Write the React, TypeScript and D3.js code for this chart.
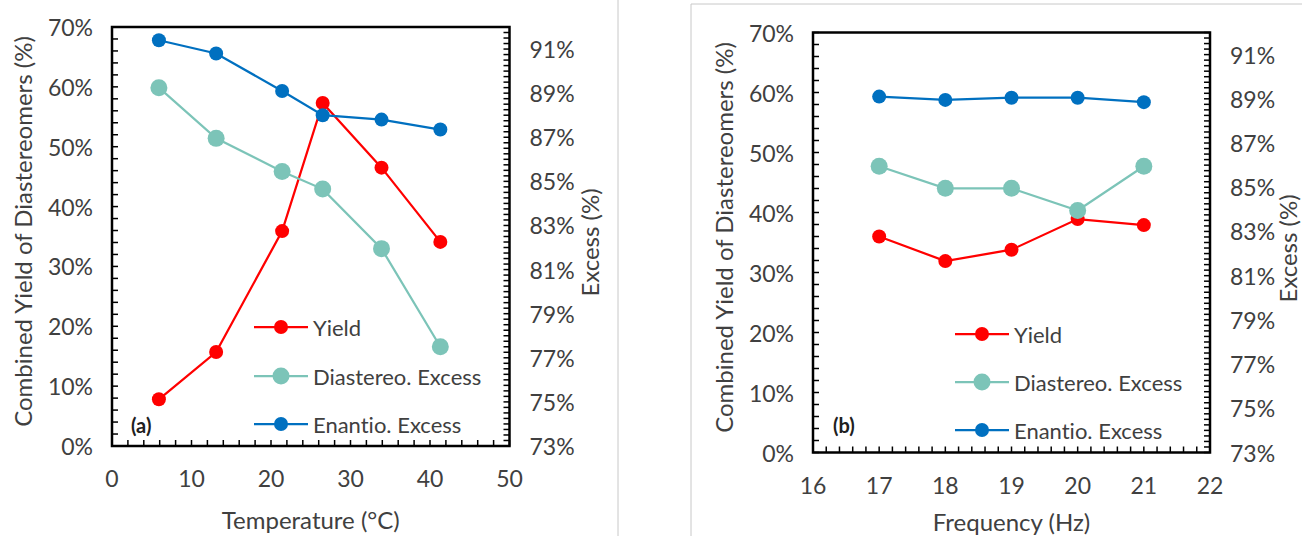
import React from 'react'
import * as d3 from 'd3'

// panel (a): temperature series
const tempC = [5.9, 13.1, 21.4, 26.5, 33.9, 41.3]
const tempYield = [7.8, 15.7, 35.9, 57.3, 46.5, 34.1]
const tempDiastereo = [89.25, 86.95, 85.45, 84.65, 81.95, 77.5]
const tempEnantio = [91.4, 90.8, 89.1, 88.0, 87.8, 87.35]

// panel (b): frequency series
const freqHz = [17, 18, 19, 20, 21]
const freqYield = [36.0, 31.9, 33.8, 38.9, 37.9]
const freqDiastereo = [85.95, 84.95, 84.95, 83.95, 85.95]
const freqEnantio = [89.1, 88.95, 89.05, 89.05, 88.85]

// axes
const yieldTicks = [0, 10, 20, 30, 40, 50, 60, 70]
const excessTicks = [73, 75, 77, 79, 81, 83, 85, 87, 89, 91]
const tempTicks = [0, 10, 20, 30, 40, 50]
const freqTicks = [16, 17, 18, 19, 20, 21, 22]

const seriesNames = ['Yield', 'Diastereo. Excess', 'Enantio. Excess']
const colors = ['#FF0000', '#7CC4B8', '#0070C0']
const radii = [7, 8.5, 7]

const FONT = 'Lato, "Open Sans", sans-serif'
const TXT = '#404040'

type Panel = {
  label: string
  xTitle: string
  xs: number[]
  yieldV: number[]
  dia: number[]
  ena: number[]
  xTicks: number[]
  xMinor: number
  box: { x0: number; x1: number; y0: number; y1: number }
  legend: { x: number; ys: number[] }
  tag: { x: number; y: number }
  titleY: number
  rightTitleDx: number
}

const panels: Panel[] = [
  {
    label: '(a)', xTitle: 'Temperature (°C)', xs: tempC, yieldV: tempYield, dia: tempDiastereo, ena: tempEnantio,
    xTicks: tempTicks, xMinor: 2,
    box: { x0: 112, x1: 509.5, y0: 27, y1: 446 },
    legend: { x: 254, ys: [327, 376, 424] },
    tag: { x: 131, y: 425 },
    titleY: 519,
    rightTitleDx: 80,
  },
  {
    label: '(b)', xTitle: 'Frequency (Hz)', xs: freqHz, yieldV: freqYield, dia: freqDiastereo, ena: freqEnantio,
    xTicks: freqTicks, xMinor: 0.2,
    box: { x0: 813, x1: 1210, y0: 32.5, y1: 452.5 },
    legend: { x: 955, ys: [334, 382, 430] },
    tag: { x: 833, y: 425 },
    titleY: 521,
    rightTitleDx: 77,
  },
]

function ChartPanel({ p }: { p: Panel }) {
  const { x0, x1, y0, y1 } = p.box
  const x = d3.scaleLinear().domain([p.xTicks[0], p.xTicks[p.xTicks.length - 1]]).range([x0, x1])
  const yL = d3.scaleLinear().domain([0, 70]).range([y1, y0])
  const yR = d3.scaleLinear().domain([73, 92]).range([y1, y0])
  const line = d3.line<[number, number]>().x(d => d[0]).y(d => d[1])

  const xMin = p.xTicks[0], xMax = p.xTicks[p.xTicks.length - 1]
  const xMinorTicks = d3.range(xMin, xMax + 1e-6, p.xMinor)
  const yLMinor = d3.range(0, 70 + 1e-6, 2)
  const yRMinor = d3.range(73, 92 + 1e-6, 0.25)

  const series = [
    p.xs.map((v, i) => [x(v), yL(p.yieldV[i])] as [number, number]),
    p.xs.map((v, i) => [x(v), yR(p.dia[i])] as [number, number]),
    p.xs.map((v, i) => [x(v), yR(p.ena[i])] as [number, number]),
  ]
  const midY = (y0 + y1) / 2
  const tk = 6

  return (
    <g>
      {/* ticks */}
      {xMinorTicks.map((t, i) => (
        <line key={'xt' + i} x1={x(t)} x2={x(t)} y1={y1} y2={y1 - tk} stroke="#000" strokeWidth={1.5} />
      ))}
      {yLMinor.map((t, i) => (
        <line key={'yl' + i} x1={x0} x2={x0 + tk} y1={yL(t)} y2={yL(t)} stroke="#000" strokeWidth={1.5} />
      ))}
      {yRMinor.map((t, i) => (
        <line key={'yr' + i} x1={x1} x2={x1 - tk} y1={yR(t)} y2={yR(t)} stroke="#000" strokeWidth={1.5} />
      ))}
      <rect x={x0} y={y0} width={x1 - x0} height={y1 - y0} fill="none" stroke="#000" strokeWidth={2.5} />

      {/* tick labels */}
      {yieldTicks.map(t => (
        <text key={'l' + t} x={x0 - 19} y={yL(t)} textAnchor="end" dominantBaseline="central"
          fontSize={23} fill={TXT}>{t}%</text>
      ))}
      {excessTicks.map(t => (
        <text key={'r' + t} x={x1 + 20} y={yR(t)} textAnchor="start" dominantBaseline="central"
          fontSize={23} fill={TXT}>{t}%</text>
      ))}
      {p.xTicks.map(t => (
        <text key={'x' + t} x={x(t)} y={y1 + 32} textAnchor="middle" dominantBaseline="central"
          fontSize={23} fill={TXT}>{t}</text>
      ))}

      {/* titles */}
      <text x={(x0 + x1) / 2} y={p.titleY} textAnchor="middle" dominantBaseline="central" fontSize={24} fill={TXT}>
        {p.xTitle}
      </text>
      <text transform={`translate(${x0 - 90},${midY - 5}) rotate(-90)`} textAnchor="middle" dominantBaseline="central"
        fontSize={24} fill={TXT}>Combined Yield of Diastereomers (%)</text>
      <text transform={`translate(${x1 + p.rightTitleDx},${midY + 6}) rotate(-90)`} textAnchor="middle"
        dominantBaseline="central" fontSize={24} fill={TXT}>Excess (%)</text>

      {/* series */}
      {series.map((pts, si) => (
        <g key={'s' + si}>
          <path d={line(pts) || ''} fill="none" stroke={colors[si]} strokeWidth={2.25} />
          {pts.map((pt, i) => (
            <circle key={i} cx={pt[0]} cy={pt[1]} r={radii[si]} fill={colors[si]} />
          ))}
        </g>
      ))}

      {/* legend */}
      {seriesNames.map((n, i) => (
        <g key={n}>
          <line x1={p.legend.x} x2={p.legend.x + 54} y1={p.legend.ys[i]} y2={p.legend.ys[i]} stroke={colors[i]} strokeWidth={2.25} />
          <circle cx={p.legend.x + 27} cy={p.legend.ys[i]} r={radii[i]} fill={colors[i]} />
          <text x={p.legend.x + 59} y={p.legend.ys[i]} dominantBaseline="central" fontSize={22} fill={TXT}>{n}</text>
        </g>
      ))}

      <text x={p.tag.x} y={p.tag.y} dominantBaseline="central" fontSize={20} fontWeight="bold" fill="#202020">{p.label}</text>
    </g>
  )
}

export default function App() {
  return (
    <svg width={1302} height={536} style={{ position: 'absolute', left: 0, top: 0, background: '#fff', fontVariantLigatures: 'none' }}
      fontFamily={FONT}>
      <rect width={1302} height={536} fill="#fff" />
      <line x1={618} x2={618} y1={0} y2={536} stroke="#c8c8c8" strokeWidth={1} />
      <polyline points="691,536 691,4 1302,4" fill="none" stroke="#c8c8c8" strokeWidth={1} />
      {panels.map(p => <ChartPanel key={p.label} p={p} />)}
    </svg>
  )
}
